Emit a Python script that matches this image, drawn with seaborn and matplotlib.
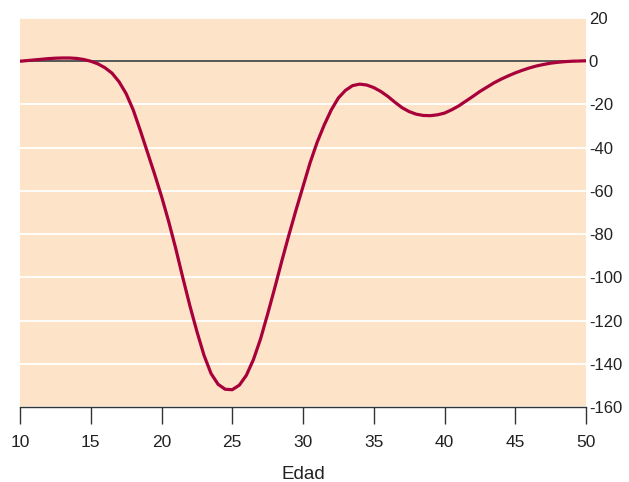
import numpy as np
import pandas as pd
import matplotlib
matplotlib.use("Agg")
import matplotlib.pyplot as plt
import seaborn as sns

# values (half-year steps)
edad = [10, 10.5, 11, 11.5, 12, 12.5, 13, 13.5, 14, 14.5,
        15, 15.5, 16, 16.5, 17, 17.5, 18, 18.5, 19, 19.5,
        20, 20.5, 21, 21.5, 22, 22.5, 23, 23.5, 24, 24.5,
        25, 25.5, 26, 26.5, 27, 27.5, 28, 28.5, 29, 29.5,
        30, 30.5, 31, 31.5, 32, 32.5, 33, 33.5, 34, 34.5,
        35, 35.5, 36, 36.5, 37, 37.5, 38, 38.5, 39, 39.5,
        40, 40.5, 41, 41.5, 42, 42.5, 43, 43.5, 44, 44.5,
        45, 45.5, 46, 46.5, 47, 47.5, 48, 48.5, 49, 49.5, 50]
valor = [0, 0.3, 0.6, 0.9, 1.2, 1.4, 1.5, 1.5, 1.3, 0.8,
         0, -1.2, -3, -5.5, -9.5, -15, -22.5, -32, -42, -52,
         -62.5, -74, -86.5, -100, -113, -125, -136, -144.5, -149.5, -151.8,
         -152, -149.9, -145.3, -138, -128.5, -117, -105, -92.5, -80.5, -69,
         -58, -47, -37.5, -29.5, -22.5, -17, -13.5, -11.3, -10.6, -11,
         -12.2, -14, -16.3, -19, -21.5, -23.3, -24.5, -25.1, -25.2, -24.8,
         -24, -22.5, -20.7, -18.5, -16.3, -14, -12, -10, -8.3, -6.8,
         -5.4, -4.2, -3.1, -2.2, -1.5, -0.9, -0.5, -0.2, 0, 0.1, 0.2]
yticks = [20, 0, -20, -40, -60, -80, -100, -120, -140, -160]
xticks = [10, 15, 20, 25, 30, 35, 40, 45, 50]

df = pd.DataFrame({"Edad": edad, "valor": valor})

sns.set_style("white")
plt.rcParams["font.family"] = ["Liberation Sans", "DejaVu Sans"]

fig = plt.figure(figsize=(6.29, 4.82), dpi=100)
ax = fig.add_axes([20 / 629, 1 - 407 / 482, 566 / 629, 389 / 482])
ax.set_facecolor("#fde4c8")

for y in yticks:
    ax.axhline(y, color="white", lw=1.3, zorder=1)
ax.axhline(0, color="#3a3a3a", lw=1.2, zorder=2)

sns.lineplot(data=df, x="Edad", y="valor", color="#a8003a", lw=2.3, ax=ax, zorder=3)

ax.set_xlim(10, 50)
ax.set_ylim(-160, 20)
ax.set_xticks(xticks)
ax.set_yticks(yticks)
ax.set_yticklabels([str(v) for v in yticks])
ax.yaxis.tick_right()
ax.tick_params(axis="y", length=0, labelsize=12, pad=2, colors="#222222")
ax.tick_params(axis="x", length=12, width=1, direction="out", labelsize=12.5,
               color="#333333", labelcolor="#222222", pad=8, bottom=True)
for s in ["top", "left", "right"]:
    ax.spines[s].set_visible(False)
ax.spines["bottom"].set_color("#333333")
ax.spines["bottom"].set_linewidth(1)
ax.set_xlabel("Edad", fontsize=13.5, color="#222222", labelpad=12)
ax.set_ylabel("")

fig.savefig("out.png", dpi=100)
